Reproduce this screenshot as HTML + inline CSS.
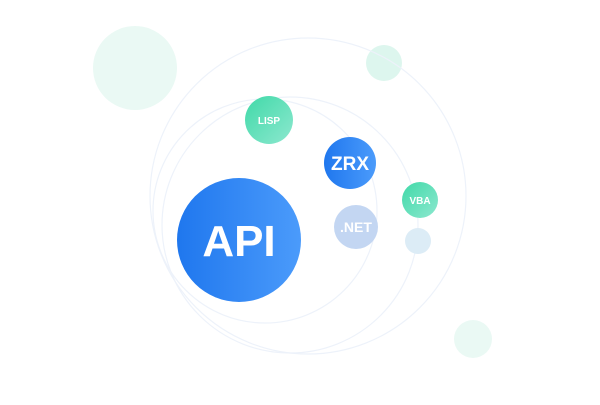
<!DOCTYPE html>
<html><head><style>
body{margin:0;width:600px;height:400px;background:#fff;overflow:hidden;font-family:"Liberation Sans",sans-serif}
</style></head><body>
<svg width="600" height="400" viewBox="0 0 600 400">
<defs>
<linearGradient id="b" x1="0" x2="1"><stop offset="0" stop-color="#1f77ee"/><stop offset="1" stop-color="#4b9bfb"/></linearGradient>
<linearGradient id="g" x1="0" y1="0" x2="1" y2="1"><stop offset="0" stop-color="#40d9a8"/><stop offset="1" stop-color="#8de8cf"/></linearGradient>
</defs>
<circle cx="135" cy="68" r="42" fill="#eaf9f4"/>
<circle cx="473" cy="339" r="19" fill="#eaf9f4"/>
<circle cx="384" cy="63" r="18" fill="#ddf6ee"/>
<g fill="none" stroke="#edf2fa" stroke-width="1.2">
<circle cx="308" cy="196" r="158"/>
<circle cx="265" cy="211" r="112"/>
<circle cx="290" cy="225" r="128"/>
</g>
<circle cx="239" cy="240" r="62" fill="url(#b)"/>
<text x="239" y="256" font-size="44" font-weight="bold" fill="#fff" text-anchor="middle">API</text>
<circle cx="350" cy="163" r="26" fill="url(#b)"/>
<text x="350" y="170" font-size="19" font-weight="bold" fill="#fff" text-anchor="middle">ZRX</text>
<circle cx="269" cy="120" r="24" fill="url(#g)"/>
<text x="269" y="124" font-size="10" font-weight="bold" fill="#fff" text-anchor="middle">LISP</text>
<circle cx="356" cy="227" r="22" fill="#c3d6f2"/>
<text x="356" y="232" font-size="14" font-weight="bold" fill="#fff" text-anchor="middle">.NET</text>
<circle cx="420" cy="200" r="18" fill="url(#g)"/>
<text x="420" y="204" font-size="10" font-weight="bold" fill="#fff" text-anchor="middle">VBA</text>
<circle cx="418" cy="241" r="13" fill="#dcecf6"/>
</svg>
</body></html>
